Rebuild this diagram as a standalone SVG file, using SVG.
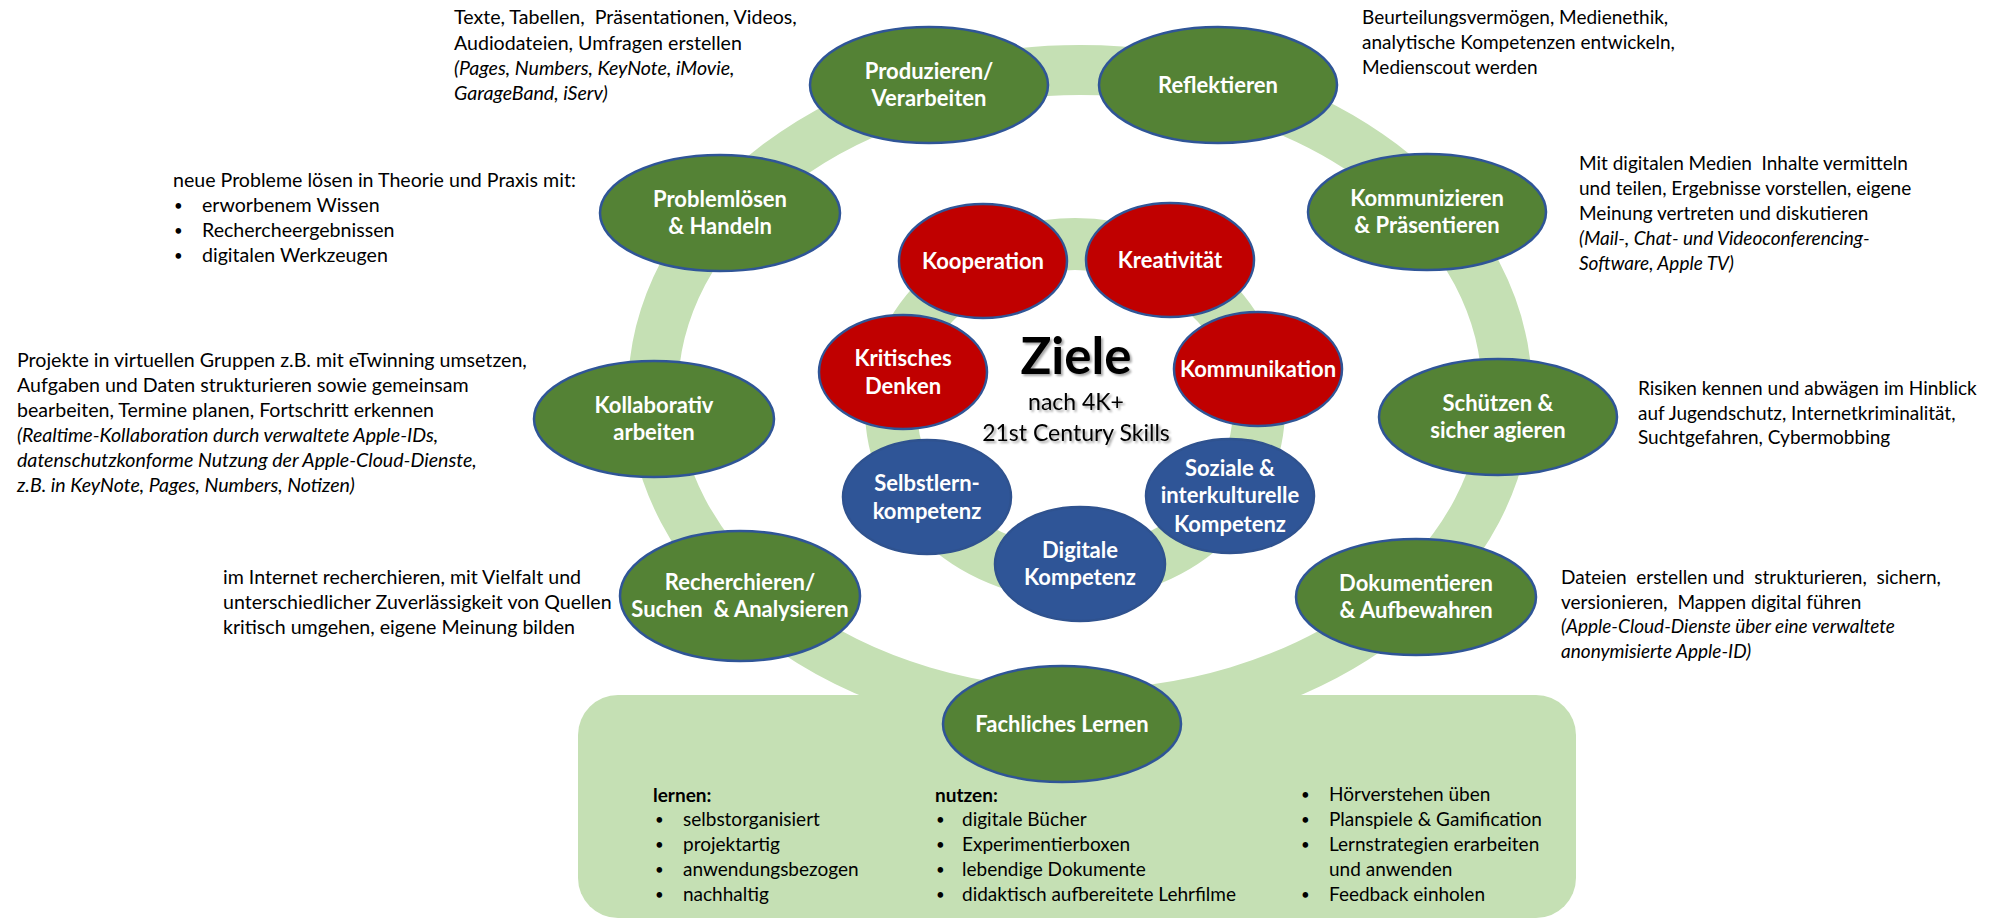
<svg xmlns="http://www.w3.org/2000/svg" width="2000" height="920" viewBox="0 0 2000 920">
<defs>
<style>
.t{font-family:Lato,'Liberation Sans',sans-serif;font-size:19px;fill:#000;white-space:pre}
.l{font-size:19.6px}
.i{font-style:italic}
.b{font-weight:bold}
.d{font-family:Lato,'Liberation Sans',sans-serif;font-size:15px;fill:#000}
.n{font-family:Lato,'Liberation Sans',sans-serif;font-weight:bold;font-size:22px;fill:#fff;text-anchor:middle;white-space:pre}
.g{fill:#548235;stroke:#2F5597;stroke-width:2.5}
.r{fill:#C00000;stroke:#2F5597;stroke-width:2.5}
.u{fill:#2F5597;stroke:#2F528F;stroke-width:2.5}
.ring{fill:none;stroke:#C5E0B4}
.c{font-family:Lato,'Liberation Sans',sans-serif;fill:#000;text-anchor:middle}
</style>
<filter id="sh" x="-10%" y="-10%" width="130%" height="140%">
<feDropShadow dx="2" dy="2" stdDeviation="1.2" flood-color="#000" flood-opacity="0.35"/>
</filter>
</defs>
<rect width="2000" height="920" fill="#fff"/>

<g id="connectors">
<ellipse class="ring" cx="1080" cy="392" rx="427" ry="322" stroke-width="50"/>
<ellipse class="ring" cx="1075" cy="409" rx="184" ry="165" stroke-width="52"/>
</g>

<g id="box-fachliches-lernen">
<rect x="578" y="695" width="998" height="223" rx="40" fill="#C5E0B4"/>
<text class="t b" x="653" y="802">lernen:</text>
<text class="d" x="655" y="825">•</text><text class="t" x="683" y="826">selbstorganisiert</text>
<text class="d" x="655" y="850">•</text><text class="t" x="683" y="851">projektartig</text>
<text class="d" x="655" y="875">•</text><text class="t" x="683" y="876">anwendungsbezogen</text>
<text class="d" x="655" y="900">•</text><text class="t" x="683" y="901">nachhaltig</text>
<text class="t b" x="935" y="802">nutzen:</text>
<text class="d" x="936" y="825">•</text><text class="t" x="962" y="826">digitale Bücher</text>
<text class="d" x="936" y="850">•</text><text class="t" x="962" y="851">Experimentierboxen</text>
<text class="d" x="936" y="875">•</text><text class="t" x="962" y="876">lebendige Dokumente</text>
<text class="d" x="936" y="900">•</text><text class="t" x="962" y="901">didaktisch aufbereitete Lehrfilme</text>
<text class="d" x="1301" y="800">•</text><text class="t" x="1329" y="801">Hörverstehen üben</text>
<text class="d" x="1301" y="825">•</text><text class="t" x="1329" y="826">Planspiele &amp; Gamification</text>
<text class="d" x="1301" y="850">•</text><text class="t" x="1329" y="851">Lernstrategien erarbeiten</text>
<text class="t" x="1329" y="876">und anwenden</text>
<text class="d" x="1301" y="900">•</text><text class="t" x="1329" y="901">Feedback einholen</text>
</g>

<g id="center-ziele" filter="url(#sh)">
<text class="c b" x="1076" y="374" font-size="51">Ziele</text>
<text class="c" x="1076" y="410" font-size="23">nach 4K+</text>
<text class="c" x="1076" y="441" font-size="23">21st Century Skills</text>
</g>

<g id="node-produzieren">
<ellipse class="g" cx="929" cy="85" rx="119" ry="58"/>
<text class="n" x="929" y="79">Produzieren/</text>
<text class="n" x="929" y="106">Verarbeiten</text>
<text class="t l" x="454" y="24">Texte, Tabellen,  Präsentationen, Videos,</text>
<text class="t l" x="454" y="50">Audiodateien, Umfragen erstellen</text>
<text class="t l i" x="454" y="75">(Pages, Numbers, KeyNote, iMovie,</text>
<text class="t l i" x="454" y="100">GarageBand, iServ)</text>
</g>

<g id="node-reflektieren">
<ellipse class="g" cx="1218" cy="85" rx="119" ry="58"/>
<text class="n" x="1218" y="93">Reflektieren</text>
<text class="t" x="1362" y="24">Beurteilungsvermögen, Medienethik,</text>
<text class="t" x="1362" y="49">analytische Kompetenzen entwickeln,</text>
<text class="t" x="1362" y="74">Medienscout werden</text>
</g>

<g id="node-problemloesen">
<ellipse class="g" cx="720" cy="213" rx="120" ry="58"/>
<text class="n" x="720" y="207">Problemlösen</text>
<text class="n" x="720" y="234">&amp; Handeln</text>
<text class="t l" x="173" y="187">neue Probleme lösen in Theorie und Praxis mit:</text>
<text class="d" x="174" y="211">•</text><text class="t l" x="202" y="212">erworbenem Wissen</text>
<text class="d" x="174" y="236">•</text><text class="t l" x="202" y="237">Rechercheergebnissen</text>
<text class="d" x="174" y="261">•</text><text class="t l" x="202" y="262">digitalen Werkzeugen</text>
</g>

<g id="node-kommunizieren">
<ellipse class="g" cx="1427" cy="212" rx="119" ry="58"/>
<text class="n" x="1427" y="206">Kommunizieren</text>
<text class="n" x="1427" y="233">&amp; Präsentieren</text>
<text class="t" x="1579" y="170">Mit digitalen Medien  Inhalte vermitteln</text>
<text class="t" x="1579" y="195">und teilen, Ergebnisse vorstellen, eigene</text>
<text class="t" x="1579" y="220">Meinung vertreten und diskutieren</text>
<text class="t i" x="1579" y="245">(Mail-, Chat- und Videoconferencing-</text>
<text class="t i" x="1579" y="270">Software, Apple TV)</text>
</g>

<g id="node-kollaborativ">
<ellipse class="g" cx="654" cy="419" rx="120" ry="58"/>
<text class="n" x="654" y="413">Kollaborativ</text>
<text class="n" x="654" y="440">arbeiten</text>
<text class="t l" x="17" y="367">Projekte in virtuellen Gruppen z.B. mit eTwinning umsetzen,</text>
<text class="t l" x="17" y="392">Aufgaben und Daten strukturieren sowie gemeinsam</text>
<text class="t l" x="17" y="417">bearbeiten, Termine planen, Fortschritt erkennen</text>
<text class="t l i" x="17" y="442">(Realtime-Kollaboration durch verwaltete Apple-IDs,</text>
<text class="t l i" x="17" y="467">datenschutzkonforme Nutzung der Apple-Cloud-Dienste,</text>
<text class="t l i" x="17" y="492">z.B. in KeyNote, Pages, Numbers, Notizen)</text>
</g>

<g id="node-schuetzen">
<ellipse class="g" cx="1498" cy="417" rx="119" ry="58"/>
<text class="n" x="1498" y="411">Schützen &amp;</text>
<text class="n" x="1498" y="438">sicher agieren</text>
<text class="t" x="1638" y="395">Risiken kennen und abwägen im Hinblick</text>
<text class="t" x="1638" y="420">auf Jugendschutz, Internetkriminalität,</text>
<text class="t" x="1638" y="444">Suchtgefahren, Cybermobbing</text>
</g>

<g id="node-recherchieren">
<ellipse class="g" cx="740" cy="596" rx="120" ry="65"/>
<text class="n" x="740" y="590">Recherchieren/</text>
<text class="n" x="740" y="617">Suchen  &amp; Analysieren</text>
<text class="t l" x="223" y="584">im Internet recherchieren, mit Vielfalt und</text>
<text class="t l" x="223" y="609">unterschiedlicher Zuverlässigkeit von Quellen</text>
<text class="t l" x="223" y="634">kritisch umgehen, eigene Meinung bilden</text>
</g>

<g id="node-dokumentieren">
<ellipse class="g" cx="1416" cy="597" rx="120" ry="58"/>
<text class="n" x="1416" y="591">Dokumentieren</text>
<text class="n" x="1416" y="618">&amp; Aufbewahren</text>
<text class="t" x="1561" y="584">Dateien  erstellen und  strukturieren,  sichern,</text>
<text class="t" x="1561" y="609">versionieren,  Mappen digital führen</text>
<text class="t i" x="1561" y="633">(Apple-Cloud-Dienste über eine verwaltete</text>
<text class="t i" x="1561" y="658">anonymisierte Apple-ID)</text>
</g>

<g id="node-fachliches">
<ellipse class="g" cx="1062" cy="724" rx="119" ry="58"/>
<text class="n" x="1062" y="732">Fachliches Lernen</text>
</g>

<g id="node-kooperation">
<ellipse class="r" cx="983" cy="261" rx="84" ry="57"/>
<text class="n" x="983" y="269">Kooperation</text>
</g>
<g id="node-kreativitaet">
<ellipse class="r" cx="1170" cy="260" rx="84" ry="57"/>
<text class="n" x="1170" y="268">Kreativität</text>
</g>
<g id="node-kritisches">
<ellipse class="r" cx="903" cy="372" rx="84" ry="57"/>
<text class="n" x="903" y="366">Kritisches</text>
<text class="n" x="903" y="394">Denken</text>
</g>
<g id="node-kommunikation">
<ellipse class="r" cx="1258" cy="369" rx="84" ry="57"/>
<text class="n" x="1258" y="377">Kommunikation</text>
</g>
<g id="node-selbstlern">
<ellipse class="u" cx="927" cy="497" rx="84" ry="57"/>
<text class="n" x="927" y="491">Selbstlern-</text>
<text class="n" x="927" y="519">kompetenz</text>
</g>
<g id="node-soziale">
<ellipse class="u" cx="1230" cy="496" rx="84" ry="57"/>
<text class="n" x="1230" y="476">Soziale &amp;</text>
<text class="n" x="1230" y="503">interkulturelle</text>
<text class="n" x="1230" y="532">Kompetenz</text>
</g>
<g id="node-digitale">
<ellipse class="u" cx="1080" cy="564" rx="85" ry="57"/>
<text class="n" x="1080" y="558">Digitale</text>
<text class="n" x="1080" y="585">Kompetenz</text>
</g>
</svg>
